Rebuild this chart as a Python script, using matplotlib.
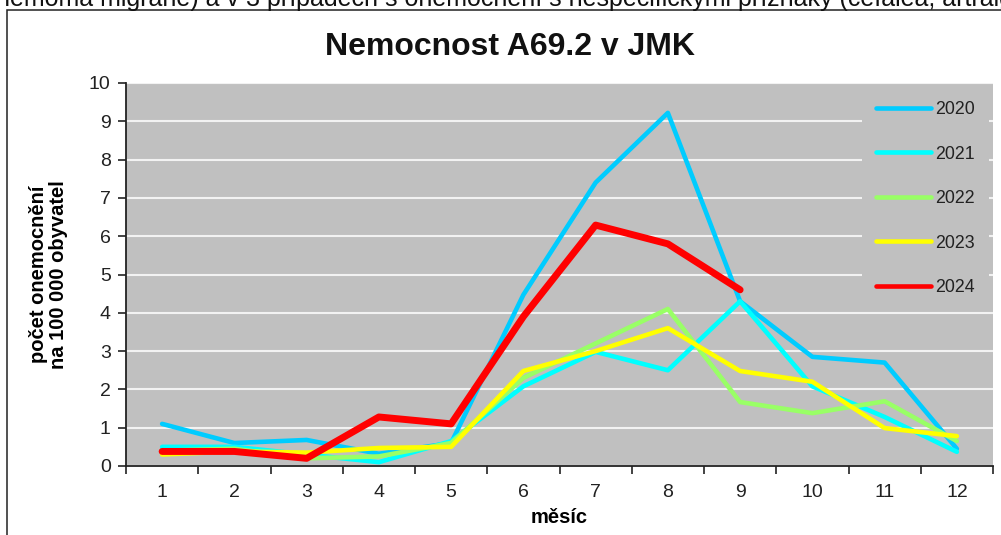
import matplotlib
matplotlib.use("Agg")
import matplotlib.pyplot as plt
from matplotlib.patches import Rectangle

plt.rcParams['font.family'] = ['Liberation Sans', 'DejaVu Sans']

months = [1, 2, 3, 4, 5, 6, 7, 8, 9, 10, 11, 12]
month_labels = ["1", "2", "3", "4", "5", "6", "7", "8", "9", "10", "11", "12"]

y2020 = [1.1, 0.6, 0.68, 0.32, 0.6, 4.47, 7.4, 9.22, 4.3, 2.85, 2.7, 0.45]
y2021 = [0.5, 0.5, 0.3, 0.1, 0.65, 2.08, 2.98, 2.5, 4.3, 2.08, 1.28, 0.37]
y2022 = [0.4, 0.45, 0.2, 0.25, 0.6, 2.3, 3.2, 4.1, 1.67, 1.38, 1.69, 0.65]
y2023 = [0.3, 0.38, 0.35, 0.47, 0.5, 2.48, 3.0, 3.6, 2.48, 2.2, 0.99, 0.78]
y2024 = [0.38, 0.38, 0.2, 1.28, 1.1, 3.9, 6.29, 5.8, 4.6]

series = [
    ("2020", y2020, "#00CCFF", 3.3),
    ("2021", y2021, "#00FFFF", 3.3),
    ("2022", y2022, "#99FF66", 3.3),
    ("2023", y2023, "#FFFF00", 3.3),
    ("2024", y2024, "#FF0000", 5.0),
]

title = "Nemocnost A69.2 v JMK"
ylabel = "počet onemocnění\nna 100 000 obyvatel"
xlabel = "měsíc"
top_text = "nemoma migrané) a v 3 případech s onemocnění s nespecifickými příznaky (cefalea, artralgie"

W, H = 1001, 535
fig = plt.figure(figsize=(W / 100, H / 100), dpi=100)
fig.patch.set_facecolor("white")

# outer frame
fig.patches.append(Rectangle((7 / W, -0.1), 1.2, 1.1 - 10 / H, transform=fig.transFigure,
                             fill=False, edgecolor="#222222", linewidth=1.1, zorder=0))
fig.text(-4 / W, 1 - 6 / H, top_text, ha="left", va="baseline", fontsize=18, color="#111111")

ax = fig.add_axes([126 / W, 1 - 466 / H, (993 - 126) / W, (466 - 83) / H])
ax.set_facecolor("#C0C0C0")

for name, vals, col, lw in series:
    ax.plot(months[:len(vals)], vals, color=col, linewidth=lw, label=name,
            solid_capstyle="round", solid_joinstyle="round")

ax.set_xlim(0.5, 12.5)
ax.set_ylim(0, 10)
ax.set_yticks(range(0, 11))
ax.yaxis.grid(True, color="#F2F2F2", linewidth=1.5)
ax.set_axisbelow(True)

ax.set_xticks([m - 0.5 for m in months] + [12.5])
ax.set_xticklabels([])
ax.set_xticks(months, minor=True)
ax.set_xticklabels(month_labels, minor=True)
ax.tick_params(axis="x", which="major", direction="out", length=6, width=1.2, color="#222222")
ax.tick_params(axis="x", which="minor", length=0, pad=13, labelsize=14, labelcolor="#222222")
ax.tick_params(axis="y", direction="out", length=6, width=1.2, color="#222222",
               labelsize=14, labelcolor="#222222", pad=5)

for s in ["top", "right"]:
    ax.spines[s].set_visible(False)
for s in ["left", "bottom"]:
    ax.spines[s].set_color("#222222")
    ax.spines[s].set_linewidth(1.3)

ax.set_ylabel(ylabel, fontsize=14.5, fontweight="bold", linespacing=1.05)
ax.yaxis.set_label_coords((68 - 126) / 867, 0.5)
ax.set_xlabel(xlabel, fontsize=14.5, fontweight="bold")
ax.xaxis.set_label_coords(0.5, (466 - 508) / 383)

fig.text(509.5 / W, 1 - 47 / H, title, ha="center", va="center", fontsize=23,
         fontweight="bold", color="#111111")

leg = ax.legend(loc="upper left", bbox_to_anchor=((862 - 126) / 867, 0.99), borderaxespad=0,
                frameon=True, fancybox=False, facecolor="#C0C0C0", edgecolor="none",
                framealpha=1, fontsize=12.8, handlelength=3.1, handletextpad=0.2,
                labelspacing=1.55, borderpad=0.8)
for line in leg.get_lines():
    line.set_linewidth(3.3)
for t in leg.get_texts():
    t.set_color("#222222")

fig.savefig("out.png", dpi=100, facecolor="white")
